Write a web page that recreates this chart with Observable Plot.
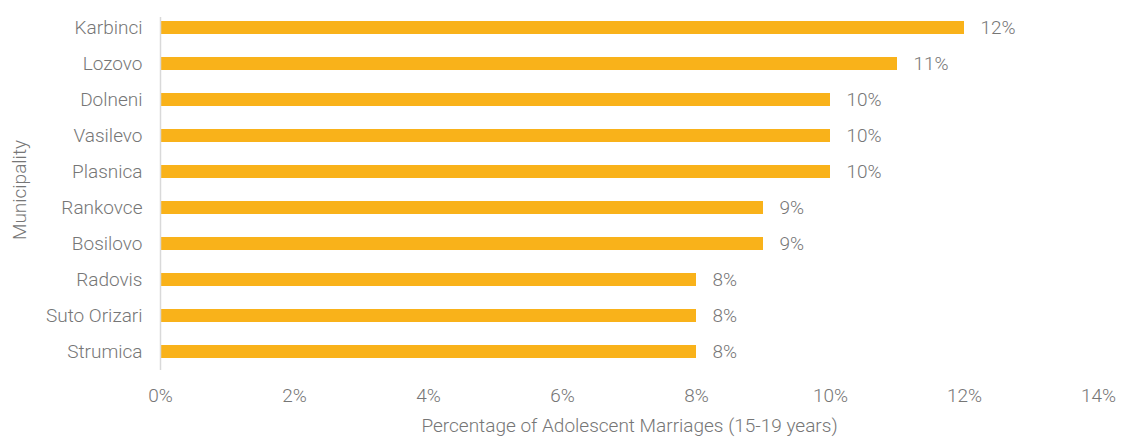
<!DOCTYPE html>
<html>
<head>
<meta charset="utf-8">
<script src="https://cdn.jsdelivr.net/npm/d3@7"></script>
<script src="https://cdn.jsdelivr.net/npm/@observablehq/plot@0.6"></script>
<style>
  html, body { margin: 0; padding: 0; background: #fff; }
  #chart svg { display: block; }
</style>
</head>
<body>
<div id="chart"></div>
<script>
const municipalities = ["Karbinci", "Lozovo", "Dolneni", "Vasilevo", "Plasnica", "Rankovce", "Bosilovo", "Radovis", "Suto Orizari", "Strumica"];
const shares = [12, 11, 10, 10, 10, 9, 9, 8, 8, 8];
const xTicks = [0, 2, 4, 6, 8, 10, 12, 14];

const data = municipalities.map((m, i) => ({municipality: m, share: shares[i]}));
const grey = "#767676";
const font = "Roboto, 'Liberation Sans', sans-serif";
const fs = 19;

const chart = Plot.plot({
  width: 1121,
  height: 438,
  marginLeft: 160,
  marginRight: 23,
  marginTop: 9,
  marginBottom: 68,
  style: {fontFamily: font, fontSize: fs + "px", fontWeight: 300, color: grey, background: "#fff"},
  x: {domain: [0, 14], ticks: xTicks, tickFormat: d => d + "%"},
  y: {domain: municipalities, paddingInner: 0.64, paddingOuter: 0.32},
  marks: [
    Plot.barX(data, {x: "share", y: "municipality", fill: "#F9B21A"}),
    Plot.ruleX([0], {stroke: "#d9d9d9", strokeWidth: 1.5, insetTop: 8}),
    Plot.text(data, {x: "share", y: "municipality", text: d => d.share + "%", textAnchor: "start", dx: 16, fill: grey, fontSize: fs}),
    Plot.axisX({ticks: xTicks, tickFormat: d => d + "%", tickSize: 0, tickPadding: 18, label: "Percentage of Adolescent Marriages (15-19 years)", labelAnchor: "center", labelArrow: "none", labelOffset: 61, fontSize: fs}),
    Plot.axisY({tickSize: 0, tickPadding: 18, label: "Municipality", labelAnchor: "center", labelArrow: "none", labelOffset: 148, fontSize: fs})
  ]
});
document.getElementById("chart").appendChild(chart);
</script>
</body>
</html>
